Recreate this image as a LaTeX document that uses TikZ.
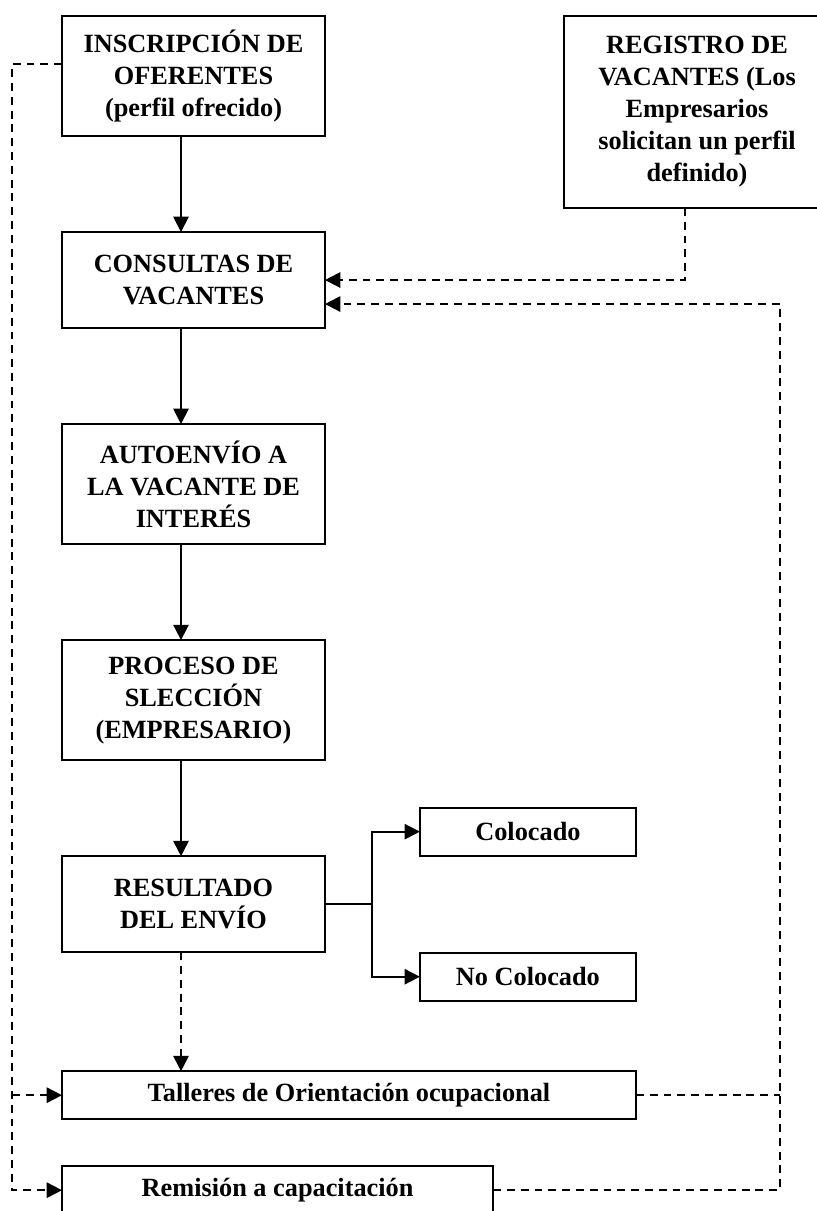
\documentclass[tikz,border=0pt]{standalone}
\usepackage{fontspec}
\setmainfont{Liberation Serif}
\usetikzlibrary{arrows.meta,positioning,calc}
\newcommand{\pxu}{0.4563pt}

\begin{document}
\begin{tikzpicture}[x=\pxu,y=-\pxu,>={Triangle[width=7pt,length=7pt]},
    line width=0.8pt,node distance=43.8pt,
    box/.style={draw,line width=0.8pt,align=center,inner sep=0pt,outer sep=0pt,
      font=\fontsize{12}{14.6}\selectfont\bfseries,minimum width=120pt},
    dline/.style={line width=0.85pt,dash pattern=on 3.6pt off 2.7pt}]
    \useasboundingbox (0,0) rectangle (817,1211);

    \node[box,minimum height=54.8pt]  (ins)   at (193.5,76)          {INSCRIPCIÓN DE\\OFERENTES\\(perfil ofrecido)};
    \node[box,minimum height=43.8pt]  (con)   [below=of ins]         {CONSULTAS DE\\VACANTES};
    \node[box,minimum height=54.8pt]  (aut)   [below=of con]         {AUTOENVÍO A\\LA VACANTE DE\\INTERÉS};
    \node[box,minimum height=54.8pt]  (pro)   [below=of aut]         {PROCESO DE\\SLECCIÓN\\(EMPRESARIO)};
    \node[box,minimum height=43.8pt]  (res)   [below=of pro]         {RESULTADO\\DEL ENVÍO};
    \node[box,minimum width=261.9pt,minimum height=21.9pt] (tal)
         [below=54.3pt of res.south west,anchor=north west]          {Talleres de Orientación ocupacional};
    \node[box,minimum width=196.7pt,minimum height=21.9pt] (rem)
         [below=21.45pt of tal.south west,anchor=north west]         {Remisión a capacitación};
    \node[box,minimum width=98.6pt,minimum height=21.9pt]  (col)
         [above right=33.1pt and 43.3pt of res.east,anchor=west]     {Colocado};
    \node[box,minimum width=98.6pt,minimum height=21.9pt]  (nocol)
         [below right=33.1pt and 43.3pt of res.east,anchor=west]     {No Colocado};
    \node[box,minimum width=121.4pt,minimum height=87.6pt,anchor=north west] (reg)
         at (564,16) {REGISTRO DE\\VACANTES (Los\\Empresarios\\solicitan un perfil\\definido)};

    \coordinate (ax) at (181,0);
    \coordinate (bx) at (372,0);
    \coordinate (lx) at (12,0);
    \coordinate (rx) at (780,0);
    \coordinate (gx) at (685,0);
    \coordinate (c2) at ($(con.east)+(0,24)$);

    % main flow
    \foreach \a/\b in {ins/con,con/aut,aut/pro,pro/res}
      \draw[->] (\a.south -| ax) -- (\b.north -| ax);
    \draw[dline,->] (res.south -| ax) -- (tal.north -| ax);

    % result branches
    \draw (res.east) -- (res.east -| bx);
    \draw[->] (res.east -| bx) |- (col.west);
    \draw[->] (res.east -| bx) |- (nocol.west);

    % feedback loops
    \draw[dline,->] (ins.west |- 0,64) -| (lx |- rem.west) -- (rem.west);
    \draw[dline,->] (lx |- tal.west) -- (tal.west);
    \draw[dline,->] (rem.east) -| (rx |- c2) -- (c2);
    \draw[dline] (tal.east) -- (tal.east -| rx);
    \draw[dline,->] (reg.south -| gx) |- (con.east);
\end{tikzpicture}
\end{document}
